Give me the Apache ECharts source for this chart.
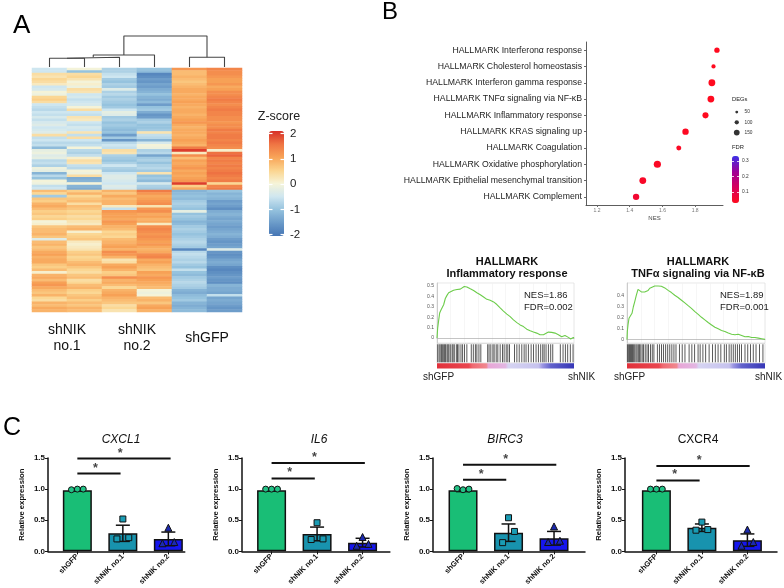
<!DOCTYPE html>
<html><head><meta charset="utf-8">
<script src="https://cdn.jsdelivr.net/npm/echarts@6/dist/echarts.min.js"></script>
<style>html,body{margin:0;padding:0;background:#fff}#c{width:784px;height:588px}</style>
</head><body><div id="c"></div>
<script>
// ===================== DATA =====================
// ---- Panel A: heatmap (z-scores, 96 genes x 6 samples, top to bottom) ----
const heatSamples = ['shNIK1_r1','shNIK1_r2','shNIK2_r1','shNIK2_r2','shGFP_r1','shGFP_r2'];
const zNIK1a = [-0.5,-0.5,0.4,0.3,0.5,0.4,0.2,-0.5,-0.4,0,-0.1,0.5,0.6,0.4,-0.5,-0.6,-0.7,-0.5,-0.6,-0.4,-0.6,-0.4,-0.3,-0.5,-0.4,-0.3,0.4,-0.6,-0.5,-0.7,-0.6,-1.1,-0.2,-0.1,-0.3,-0.2,-0.7,-0.6,-0.8,-0.1,-0.2,-1.2,-0.7,-1.0,0,-0.1,-0.6,-0.5,
 0.8,0.5,-0.9,0.7,0.6,0.9,1.0,0.8,0.6,0.7,0.5,0.6,0.0,0.1,0.7,0.8,0.8,0.9,0.7,-0.3,0.8,0.9,0.7,0.8,1.0,1.1,0.9,1.0,1.0,0.7,0.6,0.8,0.1,0.9,1.0,0.8,1.1,1.2,1.0,0.8,0.7,0.9,0.5,0.4,0.9,0.8,1.0,0.9];
const zNIK1b = [0,-1.0,0.4,0.5,0.3,0,0.1,-0.1,0.4,0.3,-0.5,-0.4,-0.6,-0.5,-0.4,0,0.4,-0.5,-0.6,0.3,0.2,-0.5,-0.6,-0.4,-0.5,0.3,-0.6,0.4,-0.5,-0.7,-0.6,0,-0.7,-0.8,-0.6,0.1,0.4,0.3,-0.6,-0.7,0,-0.1,0.4,-1.3,-1.2,0,-1.2,-1.3,
 0.6,0.9,0.5,0.7,0.8,0.4,0.8,0.7,0.5,0.6,0.4,0.5,0.3,0.2,0.8,0.9,0.1,0.5,0.6,0.7,0.2,0.1,0.2,0.3,0.6,0.7,0.5,0.6,0.8,0.9,0.7,0.5,0.4,0.7,0.8,0.4,0.5,0.8,0.9,0.6,0.5,0.7,0.8,0.6,0.8,0.7,0.9,0.8];
const zNIK2a = [-0.8,-0.8,-0.6,-0.5,-0.9,-1.0,-0.8,-0.9,-0.3,-0.8,-0.7,-0.9,-0.8,-0.9,-1.0,-0.9,-0.5,-0.2,-0.3,-0.9,-0.8,-1.0,-0.9,-1.0,-1.1,-1.0,-1.5,-0.9,-1.6,-0.7,-0.5,-0.6,0.4,0.3,-0.8,-0.9,-1.0,-0.8,-0.5,-0.8,-0.9,-0.5,-0.3,-0.3,-0.4,-0.5,-0.3,-0.4,
 0.9,0.7,1.0,0.8,0.9,0.9,0.2,-0.6,1.2,1.1,1.1,1.0,1.2,1.1,0.9,0.8,0.5,0.6,0.5,0.8,0.9,1.0,1.1,0.9,1.3,1.2,0.9,0.3,0.4,1.0,1.1,0.9,0.6,0.7,1.3,0.9,1.0,0.8,0.5,0.9,1.0,1.1,0.9,0.8,0.7,0.4,0.5,0.3];
const zNIK2b = [-1.0,-1.1,-1.8,-1.7,-1.5,-1.6,-1.4,-1.5,-1.3,-1.2,-1.0,-1.2,-1.3,-1.1,-1.5,-1.0,-0.9,-1.3,-1.6,-1.5,-0.9,-0.8,-1.0,-1.0,-0.9,0.3,-0.6,-0.7,-1.2,-0.4,0,-0.1,-0.8,-0.7,-1.4,-0.9,-0.8,-1.0,-0.8,-0.7,-0.9,0.3,-1.0,-0.9,-1.1,-0.4,-0.8,-0.9,
 1.5,1.2,1.0,1.1,1.2,1.3,0.3,1.2,1.3,1.0,1.1,0.9,1.0,0.2,1.3,1.4,1.3,1.2,1.3,1.2,1.1,1.2,1.0,0.9,1.0,1.3,1.4,1.0,1.1,0.9,0.8,0.7,1.1,1.0,1.2,1.1,1.0,0.9,0.8,0,-0.1,0.0,0.8,0.9,0.7,1.0,1.1,0.9];
const zGFPa = [1.2,0.8,0.8,0.9,0.8,0.7,0.8,0.9,1.0,1.0,0.9,1.0,1.0,1.1,1.0,0.9,1.0,1.0,0.9,1.0,1.1,1.2,1.0,0.9,1.0,1.0,0.9,1.0,1.1,1.0,0.9,1.5,2.0,0.2,1.3,0.8,1.1,1.0,1.1,1.2,1.0,1.1,1.0,1.1,1.2,2.0,0.6,1.0,
 -1.2,-1.1,-1.0,-1.1,-0.9,-0.8,-0.9,-1.0,-0.2,-1.0,-0.9,-1.0,-1.2,-1.1,-0.9,-0.8,-0.9,-1.0,-0.9,-0.8,-0.7,-0.8,-0.9,-1.8,-0.7,-0.6,-0.7,-0.8,-0.7,-0.9,-1.0,-0.6,-1.0,-1.1,-0.9,-0.8,-0.7,-0.8,-0.9,-1.2,-1.3,-1.1,-1.0,-0.9,-1.2,-1.3,-1.2,-1.1];
const zGFPb = [1.4,1.3,1.3,1.2,1.1,1.1,1.2,1.0,1.1,1.3,1.3,1.4,1.5,1.4,1.3,1.4,1.5,1.4,1.4,1.3,1.3,1.2,1.3,1.3,1.5,1.4,1.5,1.5,1.4,1.5,1.4,1.3,0.1,1.6,1.7,1.4,1.5,1.4,1.5,1.4,1.5,1.6,1.5,1.4,1.5,0.5,1.4,1.5,
 -1.0,-1.2,-1.1,-1.2,-1.5,-1.4,-1.5,-1.7,-1.3,-1.2,-1.3,-1.4,-1.3,-1.4,-1.5,-1.4,-1.3,-1.2,-1.3,-1.5,-1.6,-1.5,-1.4,-0.3,-1.6,-1.7,-1.6,-1.4,-1.3,-1.4,-1.7,-1.8,-1.7,-1.6,-1.5,-1.6,-1.7,-1.2,-1.3,-1.3,-1.4,-0.6,-1.4,-1.3,-1.4,-1.5,-1.6,-1.5];
const heatGroups = ['shNIK\nno.1','shNIK\nno.2','shGFP'];
const zRange = [-2.05, 2.1];
const zTicks = [-2,-1,0,1,2];
// dendrogram merges: [childA, childB, height]; 0-5 = samples, 6+ = merges in order
const dendroMerges = [[0,1,8.7],[6,2,9.7],[7,3,12],[4,5,9.7],[8,9,31]];

// ---- Panel B: GSEA dot plot ----
const pathways = ['HALLMARK Interferonα response','HALLMARK Cholesterol homeostasis','HALLMARK Interferon gamma response','HALLMARK TNFα signaling via NF-κB','HALLMARK Inflammatory response','HALLMARK KRAS signaling up','HALLMARK Coagulation','HALLMARK Oxidative phosphorylation','HALLMARK Epithelial mesenchymal transition','HALLMARK Complement'];
const nesValues = [1.933,1.912,1.902,1.896,1.863,1.741,1.700,1.569,1.480,1.439];
const fdrValues = [0.03,0.03,0.03,0.03,0.03,0.035,0.04,0.04,0.045,0.06];
const degCounts = [135,98,187,187,161,172,124,200,187,172];
const nesRange = [1.133, 1.97];
const nesTicks = [1.2,1.4,1.6,1.8];
const degLegend = [50,100,150];
const fdrRange = [0.029, 0.332];
const fdrTicks = [0.1,0.2,0.3];

// ---- Panel B: enrichment plots ----
const esInflamX = [0,0.49,1.21,1.94,2.91,3.88,4.85,6.07,7.28,8.5,9.7,12.1,14.6,17.0,18.2,19.9,21.8,24.3,26.7,29.1,31.6,34.0,36.4,38.8,41.3,43.7,46.1,48.5,51.0,53.4,55.8,58.3,60.7,63.1,65.5,68.0,70.4,72.8,75.2,77.7,78.9,81.3,83.7,86.2,88.6,91.0,93.4,95.9,97.6,99.5,100];
const esInflamY = [0,0.095,0.17,0.24,0.27,0.28,0.32,0.38,0.41,0.435,0.45,0.46,0.467,0.47,0.485,0.495,0.49,0.473,0.457,0.435,0.416,0.395,0.372,0.363,0.347,0.322,0.29,0.259,0.23,0.205,0.174,0.148,0.126,0.11,0.085,0.069,0.057,0.047,0.032,0.032,0.044,0.057,0.054,0.047,0.032,0.013,0.025,0.006,-0.009,0.006,0];
const hitsInflam = [0.5,1.5,2.3,3.2,3.9,4.9,5.6,6.3,7.3,8,8.7,9.7,11,11.7,12.6,14.1,15,16,17.5,18.7,20.1,21.8,25,26.5,28,29.1,30.6,32,37,38,39.3,40.8,41.7,43.2,44.4,46.1,47.8,49,50.5,51.7,52.9,56.6,58.3,60,61.9,63.6,65,66.7,68.7,70.4,72.3,74,75.7,77.2,78.2,79.6,81.3,83,84.5,90,92,93.7,95.4,97.3,99.3];
const esTnfX = [0,0.24,0.73,1.45,2.66,3.63,4.6,5.57,6.78,7.99,9.2,10.4,11.6,12.8,14.0,15.3,16.5,17.7,20.1,22.5,24.9,27.4,29.8,32.2,34.6,37.0,39.5,41.9,44.3,46.7,49.2,51.6,54.0,56.4,58.8,61.3,63.7,66.1,68.5,70.9,73.4,75.8,78.2,80.6,83.1,85.5,87.9,90.3,92.7,95.2,97.6,100];
const esTnfY = [0,0.073,0.133,0.194,0.21,0.24,0.30,0.345,0.406,0.46,0.45,0.436,0.43,0.436,0.43,0.45,0.47,0.485,0.49,0.49,0.488,0.473,0.45,0.43,0.406,0.385,0.36,0.336,0.31,0.285,0.255,0.23,0.203,0.179,0.155,0.133,0.112,0.097,0.082,0.073,0.058,0.048,0.042,0.048,0.036,0.024,0.027,0.018,0.018,0.012,0.006,0];
const hitsTnf = [0.3,1,1.8,2.5,3.3,4,4.8,5.6,6.5,7.3,8.2,9,10,11,12,13.2,14.5,15.6,17,18.3,19.5,22,23.5,25,26.4,28,29.5,31,32.5,34,35.5,38,40,42,45,47,49,51.5,53,55,57,59.5,62,64,66,68,70.5,72,74,75.5,77,78.5,80,81.5,83,85.5,87.5,89.5,91.5,93.5,96,98.5];
const esTicksInflam = [0,0.1,0.2,0.3,0.4,0.5];
const esTicksTnf = [0,0.1,0.2,0.3,0.4];
const gseaTitles = [['HALLMARK','Inflammatory response'],['HALLMARK','TNFα signaling via NF-κB']];
const gseaStats = [['NES=1.86','FDR=0.002'],['NES=1.89','FDR=0.001']];
const gseaEnds = ['shGFP','shNIK'];

// ---- Panel C: qPCR ----
const groups = ['shGFP','shNIK no.1','shNIK no.2'];
const genes = ['CXCL1','IL6','BIRC3','CXCR4'];
const meanCXCL1 = [0.98,0.29,0.20], semCXCL1 = [0.01,0.13,0.11];
const ptsCXCL1 = [[0.99,1.0,1.0],[0.20,0.52,0.22],[0.13,0.38,0.15]];
const sigCXCL1 = [1.25,1.49];
const meanIL6 = [0.98,0.28,0.14], semIL6 = [0.01,0.11,0.07];
const ptsIL6 = [[1.0,1.0,1.0],[0.19,0.46,0.20],[0.09,0.23,0.12]];
const sigIL6 = [1.17,1.42];
const meanBIRC3 = [0.98,0.30,0.21], semBIRC3 = [0.02,0.14,0.11];
const ptsBIRC3 = [[1.01,0.99,1.0],[0.14,0.54,0.32],[0.15,0.40,0.17]];
const sigBIRC3 = [1.15,1.39];
const meanCXCR4 = [0.98,0.38,0.18], semCXCR4 = [0.01,0.06,0.10];
const ptsCXCR4 = [[1.0,1.0,1.0],[0.34,0.47,0.35],[0.09,0.35,0.15]];
const sigCXCR4 = [1.14,1.37];
const relTicks = [0,0.5,1.0,1.5];

// ===================== BUILD =====================
const FONT = '"Liberation Sans", Arial, Helvetica, sans-serif';
const grids=[], xAxes=[], yAxes=[], series=[], graphics=[], visualMaps=[];
const G = g => (grids.push(Object.assign({containLabel:false}, g)), grids.length-1);
const X = o => (xAxes.push(o), xAxes.length-1);
const Y = o => (yAxes.push(o), yAxes.length-1);
const S = o => (series.push(Object.assign({animation:false, silent:true}, o)), series.length-1);
function txt(s, x, y, size, o) {
  graphics.push({type:'text', x, y, silent:true, z:50,
    style:Object.assign({text:s, fontSize:size, fontFamily:FONT, fill:'#111', align:'left', verticalAlign:'middle'}, o||{})});
}
const hidVal = (gi, min, max) => ({gridIndex:gi, type:'value', min, max, show:false});

// ---------- Panel A ----------
const heatCols = [zNIK1a,zNIK1b,zNIK2a,zNIK2b,zGFPa,zGFPb];
const rowIds = zNIK1a.map((_, i) => 'g' + i);
let gi = G({left:32, top:68, width:210, height:244});
let xi = X({gridIndex:gi, type:'category', data:heatSamples, show:false});
let yi = Y({gridIndex:gi, type:'category', data:rowIds, inverse:true, show:false});
const heatData = [];
heatCols.forEach((col, c) => col.forEach((v, r) => heatData.push([c, r, v])));
const heatIdx = S({type:'heatmap', xAxisIndex:xi, yAxisIndex:yi, data:heatData, itemStyle:{borderWidth:0}, emphasis:{disabled:true}, progressive:0});
visualMaps.push({type:'continuous', seriesIndex:heatIdx, dimension:2, min:zRange[0], max:zRange[1], calculable:false,
  left:269, top:131, itemWidth:15, itemHeight:105, padding:0, text:null, orient:'vertical',
  inRange:{color:['#4575b4','#6b9bc9','#95c2de','#cfe6f0','#f6f4d8','#fbd48e','#f8a458','#ef7443','#d73027']}});
// colorbar ticks & labels
gi = G({left:269, top:131, width:15, height:105});
X(hidVal(gi, 0, 1));
const zAx = (pos, lab) => Y({gridIndex:gi, type:'value', position:pos, min:zRange[0], max:zRange[1], z:10,
  axisLine:{show:false}, splitLine:{show:false},
  axisTick:{show:true, inside:true, length:3.5, lineStyle:{color:'#fff', width:1.2}, customValues:zTicks},
  axisLabel:{show:lab, customValues:zTicks, fontSize:11.5, fontFamily:FONT, color:'#222', margin:6}});
zAx('left', false); zAx('right', true);
txt('Z-score', 279, 117, 12.5, {align:'center', fill:'#222'});
// dendrogram
gi = G({left:32, top:34, width:210, height:33});
xi = X(hidVal(gi, 0, 6)); yi = Y(hidVal(gi, 0, 33));
const nodeX = heatSamples.map((_, i) => i + 0.5), nodeH = heatSamples.map(() => 0);
dendroMerges.forEach(([a, b, h]) => {
  S({type:'line', xAxisIndex:xi, yAxisIndex:yi, symbol:'none', lineStyle:{color:'#444', width:1.1},
     data:[[nodeX[a], nodeH[a]], [nodeX[a], h], [nodeX[b], h], [nodeX[b], nodeH[b]]]});
  nodeX.push((nodeX[a] + nodeX[b]) / 2); nodeH.push(h);
});
heatGroups.forEach((g, i) => txt(g, 67 + 70 * i, 338, 14, {align:'center', lineHeight:15.5, fill:'#111'}));
txt('A', 13, 26, 26, {fill:'#000'});

// ---------- Panel B dot plot ----------
txt('B', 382, 12, 24, {fill:'#000'});
gi = G({left:586, top:42, width:137, height:163});
xi = X({gridIndex:gi, type:'value', min:nesRange[0], max:nesRange[1], name:'NES', nameLocation:'middle', nameGap:10,
  nameTextStyle:{fontSize:6, color:'#444', fontFamily:FONT},
  axisLine:{show:true, lineStyle:{color:'#333', width:0.8}}, splitLine:{show:false},
  axisTick:{show:true, length:2, lineStyle:{color:'#666'}, customValues:nesTicks},
  axisLabel:{customValues:nesTicks, fontSize:5, color:'#777', margin:3, fontFamily:FONT}});
yi = Y({gridIndex:gi, type:'category', data:pathways, inverse:true,
  axisLine:{show:true, lineStyle:{color:'#333', width:0.8}},
  axisTick:{show:true, length:2, alignWithLabel:true, lineStyle:{color:'#666'}},
  axisLabel:{interval:0, fontSize:8.7, color:'#222', margin:4, fontFamily:FONT}});
const degSize = n => 1.4 + 0.029 * n;
const dotIdx = S({type:'scatter', xAxisIndex:xi, yAxisIndex:yi,
  data:pathways.map((p, i) => [nesValues[i], p, fdrValues[i], degCounts[i]]),
  symbolSize:v => degSize(v[3]), itemStyle:{opacity:1}});
visualMaps.push({type:'continuous', seriesIndex:dotIdx, dimension:2, min:fdrRange[0], max:fdrRange[1], calculable:false,
  left:732, top:156, itemWidth:7, itemHeight:47, padding:0, text:null, orient:'vertical',
  inRange:{color:['#ff0a1e','#d6005c','#9e0096','#3c30ea']}});
gi = G({left:732, top:156, width:7, height:47});
X(hidVal(gi, 0, 1));
const fAx = (pos, lab) => Y({gridIndex:gi, type:'value', position:pos, min:fdrRange[0], max:fdrRange[1], z:10,
  axisLine:{show:false}, splitLine:{show:false},
  axisTick:{show:true, inside:true, length:2, lineStyle:{color:'#fff', width:0.8}, customValues:fdrTicks},
  axisLabel:{show:lab, customValues:fdrTicks, fontSize:4.8, fontFamily:FONT, color:'#333', margin:3}});
fAx('left', false); fAx('right', true);
txt('FDR', 732, 147, 5.8, {fill:'#222'});
// DEG size legend
gi = G({left:733, top:107, width:7.5, height:30.6});
xi = X(hidVal(gi, 0, 1));
yi = Y({gridIndex:gi, type:'category', data:degLegend.map(String), inverse:true, position:'right',
  axisLine:{show:false}, axisTick:{show:false}, axisLabel:{fontSize:4.8, color:'#333', margin:4, fontFamily:FONT}});
S({type:'scatter', xAxisIndex:xi, yAxisIndex:yi, data:degLegend.map(d => [0.5, String(d), d]),
  symbolSize:v => degSize(v[2]), itemStyle:{color:'#000'}});
txt('DEGs', 732, 99, 5.8, {fill:'#222'});

// ---------- Panel B enrichment plots ----------
const bandGrad = [[0,'#e0303a'],[0.23,'#ea4650'],[0.26,'#ef6a72'],[0.36,'#f08890'],[0.375,'#e8a6d6'],[0.5,'#e2b6e2'],[0.52,'#d6d4f2'],[0.74,'#c6c2ee'],[0.77,'#9c96e2'],[0.83,'#6262cc'],[1,'#3636b6']];
function gsea(left, width, yMin, yMax, ticks, ex, ey, hits, ti, titleX, statX, endL, endR) {
  let g = G({left, top:283, width, height:60, show:true, borderColor:'#d8d8d8', borderWidth:0.6});
  let x = X({gridIndex:g, type:'value', min:0, max:100, interval:10,
    axisLine:{show:true, onZero:true, lineStyle:{color:'#aaa', width:0.7}}, axisTick:{show:false}, axisLabel:{show:false},
    splitLine:{show:true, lineStyle:{color:'#f0f0f0', width:0.6}}});
  let y = Y({gridIndex:g, type:'value', min:yMin, max:yMax,
    axisLine:{show:true, lineStyle:{color:'#bbb', width:0.7}}, axisTick:{show:false}, splitLine:{show:false},
    axisLabel:{customValues:ticks, fontSize:5, color:'#555', margin:3, fontFamily:FONT}});
  S({type:'line', xAxisIndex:x, yAxisIndex:y, data:ex.map((v, i) => [v, ey[i]]), symbol:'none',
    lineStyle:{color:'#6ccc4a', width:1.1}});
  g = G({left, top:343.5, width, height:19.5, show:true, borderColor:'#cfcfcf', borderWidth:0.6});
  x = X(hidVal(g, 0, 100)); y = Y(hidVal(g, 0, 1));
  S({type:'scatter', xAxisIndex:x, yAxisIndex:y, data:hits.map(h => [h, 0.5]), symbol:'rect', symbolSize:[0.9, 18],
    itemStyle:{color:'#1a1a1a'}});
  g = G({left, top:363.3, width, height:5.2});
  x = X(hidVal(g, 0, 100)); y = Y({gridIndex:g, type:'category', data:['rank'], show:false});
  S({type:'bar', xAxisIndex:x, yAxisIndex:y, data:[100], barWidth:'100%',
    itemStyle:{color:new echarts.graphic.LinearGradient(0, 0, 1, 0, bandGrad.map(([o, c]) => ({offset:o, color:c})))}});
  txt(gseaTitles[ti][0], titleX, 262, 11, {align:'center', fontWeight:'bold', fill:'#111'});
  txt(gseaTitles[ti][1], titleX, 273.5, 11, {align:'center', fontWeight:'bold', fill:'#111'});
  txt(gseaStats[ti][0], statX, 295.5, 9.5, {fill:'#222'});
  txt(gseaStats[ti][1], statX, 307.5, 9.5, {fill:'#222'});
  txt(gseaEnds[0], endL, 377, 10, {fill:'#222'});
  txt(gseaEnds[1], endR, 377, 10, {fill:'#222'});
}
gsea(437, 137, -0.048, 0.529, esTicksInflam, esInflamX, esInflamY, hitsInflam, 0, 507, 524, 423, 568);
gsea(627, 138, -0.033, 0.518, esTicksTnf, esTnfX, esTnfY, hitsTnf, 1, 698, 720, 614, 755);

// ---------- Panel C ----------
txt('C', 3, 428, 25, {fill:'#000'});
const cMeans = [meanCXCL1, meanIL6, meanBIRC3, meanCXCR4];
const cSems = [semCXCL1, semIL6, semBIRC3, semCXCR4];
const cPts = [ptsCXCL1, ptsIL6, ptsBIRC3, ptsCXCR4];
const cSigs = [sigCXCL1, sigIL6, sigBIRC3, sigCXCR4];
const cLayout = [
  {left:48, xmin:0.355, xmax:3.36, tx:121, italic:true},
  {left:242, xmin:0.35, xmax:3.6, tx:319, italic:true},
  {left:433, xmin:0.34, xmax:3.68, tx:505, italic:true},
  {left:625, xmin:0.31, xmax:3.65, tx:698, italic:false}];
const barColors = ['#19be76','#1893ae','#1616ee'];
const ptFill = ['#22c286','#1a9cb4','#1c2ab0'];
const ptSym = ['circle','rect','triangle'];
const DX = [-0.13, 0, 0.13];
const PXU = 45.5;
genes.forEach((gene, k) => {
  const L = cLayout[k];
  const g = G({left:L.left, top:458, width:(L.xmax - L.xmin) * PXU, height:95});
  const x = X({gridIndex:g, type:'value', min:L.xmin, max:L.xmax,
    axisLine:{show:true, lineStyle:{color:'#111', width:1.5}}, splitLine:{show:false},
    axisTick:{show:true, length:3, lineStyle:{color:'#111', width:1}, customValues:[1,2,3]},
    axisLabel:{customValues:[1,2,3], formatter:v => groups[Math.round(v) - 1], rotate:45, fontSize:7.5, fontWeight:'bold',
      color:'#111', margin:4, fontFamily:FONT}});
  const y = Y({gridIndex:g, type:'value', min:0, max:1.5, interval:0.5,
    axisLine:{show:true, lineStyle:{color:'#111', width:1.5}}, splitLine:{show:false},
    axisTick:{show:true, length:3, lineStyle:{color:'#111', width:1}},
    axisLabel:{formatter:v => v.toFixed(1), fontSize:8, fontWeight:'bold', color:'#111', margin:3, fontFamily:FONT},
    name:'Relative expression', nameLocation:'middle', nameGap:22,
    nameTextStyle:{fontSize:7.7, fontWeight:'bold', color:'#111', fontFamily:FONT}});
  const m = cMeans[k], s = cSems[k];
  S({type:'bar', xAxisIndex:x, yAxisIndex:y, barWidth:29, z:2,
    data:m.map((v, i) => ({value:[i + 1, v], itemStyle:{color:barColors[i], borderColor:'#111', borderWidth:1.5}}))});
  S({type:'custom', xAxisIndex:x, yAxisIndex:y, z:3, clip:false,
    data:m.map((v, i) => [i + 1, v - s[i], v + s[i]]),
    renderItem:(p, api) => {
      const lo = api.coord([api.value(0), api.value(1)]), hi = api.coord([api.value(0), api.value(2)]);
      const st = {stroke:'#111', lineWidth:1.5}, hw = 7;
      return {type:'group', children:[
        {type:'line', shape:{x1:lo[0], y1:lo[1], x2:hi[0], y2:hi[1]}, style:st},
        {type:'line', shape:{x1:hi[0]-hw, y1:hi[1], x2:hi[0]+hw, y2:hi[1]}, style:st},
        {type:'line', shape:{x1:lo[0]-hw, y1:lo[1], x2:lo[0]+hw, y2:lo[1]}, style:st}]};
    }});
  cPts[k].forEach((pts, i) => S({type:'scatter', xAxisIndex:x, yAxisIndex:y, z:4, symbol:ptSym[i], symbolSize:i === 2 ? 7 : 6,
    data:pts.map((v, j) => [i + 1 + DX[j], v]),
    itemStyle:{color:ptFill[i], borderColor:'#111', borderWidth:1, opacity:1}}));
  const sg = cSigs[k];
  S({type:'line', xAxisIndex:x, yAxisIndex:y, symbol:'none', clip:false, lineStyle:{color:'#111', width:2}, data:[[1, sg[0]], [1.95, sg[0]]]});
  S({type:'line', xAxisIndex:x, yAxisIndex:y, symbol:'none', clip:false, lineStyle:{color:'#111', width:2}, data:[[1, sg[1]], [3.05, sg[1]]]});
  S({type:'scatter', xAxisIndex:x, yAxisIndex:y, clip:false, symbolSize:0.01,
    data:[[1.4, sg[0]], [1.94, sg[1]]],
    label:{show:true, formatter:'*', position:'top', distance:-1, fontSize:12.5, fontWeight:'bold', color:'#111', fontFamily:FONT}});
  txt(gene, L.tx, 440, 12, {align:'center', fontStyle:L.italic ? 'italic' : 'normal', fill:'#111'});
});

const chart = echarts.init(document.getElementById('c'), null, {renderer:'canvas', width:784, height:588});
chart.setOption({animation:false, backgroundColor:'#fff', grid:grids, xAxis:xAxes, yAxis:yAxes, series, visualMap:visualMaps, graphic:graphics});
</script></body></html>
